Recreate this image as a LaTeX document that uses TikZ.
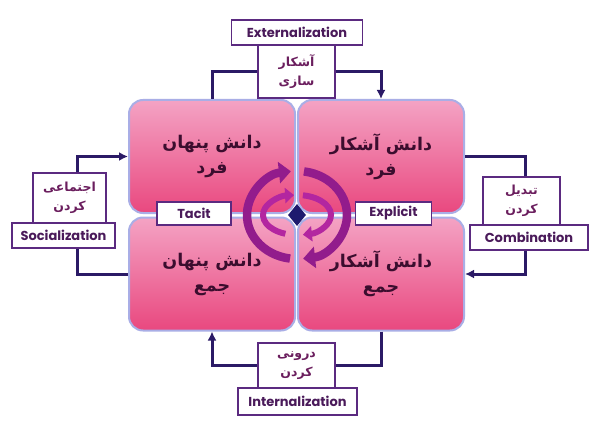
\documentclass[tikz,border=0pt]{standalone}
\usepackage{fontspec}
\usetikzlibrary{arrows.meta,shapes.geometric}
\newfontfamily\fafont[Script=Arabic]{DejaVu Sans}
\newfontfamily\enfont{Poppins}
\TeXXeTstate=1
\definecolor{boxedge}{HTML}{A9AEE6}
\definecolor{pinktop}{HTML}{F4A3C4}
\definecolor{pinkbot}{HTML}{E9487F}
\definecolor{quadtext}{HTML}{3B0D2E}
\definecolor{linkcol}{HTML}{2B1A66}
\definecolor{tagedge}{HTML}{5B2A80}
\definecolor{tagtext}{HTML}{4A1A5A}
\definecolor{fatext}{HTML}{6B1E5E}
\definecolor{ringa}{HTML}{921C8C}
\definecolor{ringb}{HTML}{B326A0}
\definecolor{hubcol}{HTML}{1E1A6E}
\newcommand{\rtl}[1]{\beginR #1\endR}

\begin{document}
\begin{tikzpicture}[x=1pt,y=1pt,>={Latex[length=9pt,width=9pt]},
  quad/.style={draw=boxedge,line width=2pt,rounded corners=14pt,top color=pinktop,bottom color=pinkbot,
    minimum width=166,minimum height=113,align=center,text=quadtext,
    font=\fafont\bfseries\fontsize{17.5}{25}\selectfont},
  tag/.style={draw=tagedge,line width=1.4pt,fill=white,inner sep=0pt,text=tagtext,
    font=\enfont\bfseries\fontsize{13}{15}\selectfont},
  tagfa/.style={tag,align=center,text=fatext,font=\fafont\bfseries\fontsize{12.5}{19}\selectfont},
  link/.style={draw=linkcol,line width=3pt},
  outring/.style={ringa,line width=8.5pt,-{Triangle[width=21pt,length=12pt]}},
  inring/.style={ringb,line width=6pt,-{Triangle[width=15pt,length=9pt]}}]

\fill[white] (0,0) rectangle (600,424);
\useasboundingbox (0,0) rectangle (600,424);

\node[quad] (tl) at (212,267.5) {\rtl{دانش پنهان}\\\rtl{فرد}};
\node[quad] (tr) at (381,267.5) {\rtl{دانش آشکار}\\\rtl{فرد}};
\node[quad] (bl) at (212,150) {\rtl{دانش پنهان}\\\rtl{جمع}};
\node[quad] (br) at (381,150) {\rtl{دانش آشکار}\\\rtl{جمع}};

\coordinate (hubc) at (297,209);
\draw[outring] ([shift={(262:50 and 44)}]hubc) arc[start angle=262,end angle=97,x radius=50,y radius=44];
\draw[outring] ([shift={(82:50 and 44)}]hubc) arc[start angle=82,end angle=-83,x radius=50,y radius=44];
\draw[inring] ([shift={(250:34 and 20)}]hubc) arc[start angle=250,end angle=95,x radius=34,y radius=20];
\draw[inring] ([shift={(80:34 and 20)}]hubc) arc[start angle=80,end angle=-80,x radius=34,y radius=20];
\node[diamond,fill=hubcol,minimum width=18,minimum height=22,inner sep=0pt] (hub) at (hubc) {};

\node[tag,minimum width=74,minimum height=23] (tacit) at (194,210.5) {Tacit};
\node[tag,minimum width=76,minimum height=23] (explicit) at (393.5,210.5) {Explicit};

\node[tag,minimum width=131,minimum height=25] (ext) at (297,391.5) {Externalization};
\node[tagfa,minimum width=77,minimum height=53] (extfa) at (296.5,352.5) {\rtl{آشکار}\\\rtl{سازی}};
\node[tag,minimum width=103,minimum height=25] (soc) at (63.5,188.5) {Socialization};
\node[tagfa,minimum width=73,minimum height=50] (socfa) at (69.5,226) {\rtl{اجتماعی}\\\rtl{کردن}};
\node[tag,minimum width=118,minimum height=25] (comb) at (529,186.5) {Combination};
\node[tagfa,minimum width=77,minimum height=48] (combfa) at (521.5,223) {\rtl{تبدیل}\\\rtl{کردن}};
\node[tag,minimum width=119,minimum height=27] (intl) at (297.5,22.5) {Internalization};
\node[tagfa,minimum width=77,minimum height=45] (intlfa) at (296.5,58.5) {\rtl{درونی}\\\rtl{کردن}};

\draw[link] (tl.north) |- (extfa.west);
\draw[link,->] (extfa.east) -| (tr.north);
\draw[link] (tr.east) -| ([xshift=3.5]combfa.north);
\draw[link,->] ([xshift=-4]comb.south) |- (br.east);
\draw[link] (br.south) |- (intlfa.east);
\draw[link,->] (intlfa.west) -| (bl.south);
\draw[link] (bl.west) -| ([xshift=14]soc.south);
\draw[link,->] ([xshift=8]socfa.north) |- (tl.west);
\end{tikzpicture}
\end{document}
